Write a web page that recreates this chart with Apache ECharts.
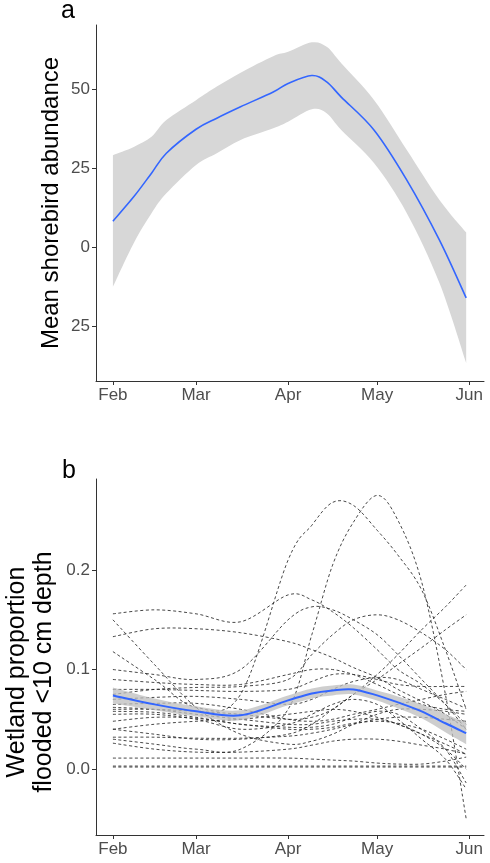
<!DOCTYPE html>
<html>
<head>
<meta charset="utf-8">
<script src="https://cdn.jsdelivr.net/npm/echarts@6/dist/echarts.min.js"></script>
<style>
html,body{margin:0;padding:0;background:#fff;}
#chart{width:490px;height:863px;}
</style>
</head>
<body>
<div id="chart"></div>
<script>
// ---- axis ticks ----
const monthTickDays = [32, 60, 91, 121, 152];
const monthTickLabels = ['Feb', 'Mar', 'Apr', 'May', 'Jun'];
const abundTicks = [-25, 0, 25, 50];
const abundTickLabels = ['25', '0', '25', '50'];
const propTicks = [0, 0.1, 0.2];
const propTickLabels = ['0.0', '0.1', '0.2'];

// ---- panel a: mean shorebird abundance (day of year) ----
const abundDays  = [32, 39, 45, 50, 60, 67, 75, 86, 91, 99, 104, 109, 120, 131, 142, 151];
const abundMean  = [8.2, 15.9, 23.4, 29.7, 37.3, 40.8, 44.4, 49.1, 51.8, 54.3, 52.3, 47.4, 37.0, 21.2, 2.2, -16.1];
const abundUpper = [29.1, 31.7, 34.9, 40.2, 46.5, 50.8, 55.2, 60.4, 61.8, 64.8, 63.4, 58.1, 46.5, 30.7, 14.9, 4.6];
const abundLower = [-12.6, 1.2, 10.7, 17.0, 26.0, 29.7, 33.9, 37.6, 39.7, 43.6, 42.4, 37.0, 26.5, 10.7, -11.4, -36.7];

// ---- panel b: wetland proportion flooded <10 cm ----
const wetDays  = [32, 46, 60, 75, 91, 99, 106, 113, 121, 128, 136, 144, 151];
const wetMean  = [0.074, 0.065, 0.058, 0.054, 0.069, 0.076, 0.079, 0.080, 0.074, 0.067, 0.058, 0.046, 0.036];
const wetUpper = [0.082, 0.071, 0.063, 0.059, 0.074, 0.081, 0.084, 0.085, 0.079, 0.073, 0.065, 0.055, 0.047];
const wetLower = [0.066, 0.059, 0.053, 0.049, 0.064, 0.071, 0.074, 0.075, 0.069, 0.061, 0.051, 0.037, 0.025];

const site01 = [0.156, 0.160, 0.156, 0.148, 0.175, 0.170, 0.158, 0.142, 0.120, 0.100, 0.085, 0.065, 0.045];
const site02 = [0.133, 0.141, 0.141, 0.137, 0.128, 0.120, 0.112, 0.102, 0.092, 0.080, 0.068, 0.055, 0.040];
const site03 = [0.118, 0.090, 0.062, 0.075, 0.210, 0.245, 0.268, 0.265, 0.240, 0.215, 0.180, 0.120, 0.060];
const site04 = [0.030, 0.025, 0.020, 0.020, 0.060, 0.135, 0.205, 0.248, 0.275, 0.250, 0.188, 0.075, -0.050];
const site05 = [0.040, 0.035, 0.030, 0.030, 0.035, 0.045, 0.060, 0.075, 0.095, 0.115, 0.140, 0.163, 0.185];
const site06 = [0.075, 0.080, 0.082, 0.083, 0.090, 0.115, 0.135, 0.150, 0.155, 0.150, 0.137, 0.120, 0.100];
const site07 = [0.060, 0.060, 0.058, 0.055, 0.050, 0.052, 0.060, 0.075, 0.090, 0.105, 0.122, 0.140, 0.155];
const site08 = [0.100, 0.095, 0.090, 0.100, 0.150, 0.163, 0.160, 0.150, 0.135, 0.115, 0.090, 0.065, 0.040];
const site09 = [0.090, 0.087, 0.085, 0.085, 0.095, 0.100, 0.100, 0.095, 0.085, 0.075, 0.065, 0.060, 0.058];
const site10 = [0.080, 0.080, 0.079, 0.078, 0.080, 0.088, 0.095, 0.095, 0.090, 0.085, 0.083, 0.083, 0.083];
const site11 = [0.070, 0.072, 0.073, 0.070, 0.065, 0.070, 0.080, 0.088, 0.092, 0.090, 0.080, 0.070, 0.061];
const site12 = [0.065, 0.066, 0.066, 0.060, 0.050, 0.048, 0.050, 0.055, 0.060, 0.065, 0.070, 0.075, 0.078];
const site13 = [0.062, 0.060, 0.055, 0.050, 0.045, 0.045, 0.048, 0.050, 0.050, 0.045, 0.035, 0.020, 0.000];
const site14 = [0.058, 0.057, 0.052, 0.045, 0.042, 0.042, 0.045, 0.052, 0.058, 0.055, 0.040, 0.020, -0.014];
const site15 = [0.055, 0.055, 0.050, 0.040, 0.045, 0.055, 0.065, 0.070, 0.065, 0.050, 0.030, 0.010, -0.020];
const site16 = [0.048, 0.052, 0.051, 0.045, 0.040, 0.040, 0.042, 0.046, 0.048, 0.046, 0.040, 0.030, 0.020];
const site17 = [0.040, 0.045, 0.048, 0.050, 0.055, 0.058, 0.060, 0.058, 0.052, 0.045, 0.035, 0.025, 0.015];
const site18 = [0.032, 0.032, 0.031, 0.031, 0.033, 0.036, 0.040, 0.045, 0.050, 0.052, 0.052, 0.050, 0.048];
const site19 = [0.026, 0.020, 0.017, 0.017, 0.020, 0.024, 0.028, 0.030, 0.030, 0.028, 0.024, 0.020, 0.015];
const site20 = [0.011, 0.011, 0.011, 0.011, 0.011, 0.010, 0.009, 0.008, 0.006, 0.005, 0.005, 0.008, 0.012];
const site21 = [0.002, 0.002, 0.002, 0.002, 0.002, 0.002, 0.002, 0.002, 0.002, 0.002, 0.002, 0.002, 0.002];
const site22 = [0.003, 0.003, 0.003, 0.003, 0.003, 0.003, 0.003, 0.003, 0.003, 0.003, 0.003, 0.003, 0.003];
const site23 = [0.150, 0.105, 0.062, 0.035, 0.025, 0.028, 0.035, 0.045, 0.055, 0.060, 0.060, 0.058, 0.055];
const siteSeries = [site01, site02, site03, site04, site05, site06, site07, site08, site09, site10, site11, site12,
  site13, site14, site15, site16, site17, site18, site19, site20, site21, site22, site23];

// ---- helpers ----
const FONT = 'Liberation Sans, Arial, sans-serif';
const lookup = (vals, labels) => (v) => {
  const i = vals.findIndex(t => Math.abs(t - v) < 1e-9);
  return i >= 0 ? labels[i] : '';
};

// Catmull-Rom curve through pixel points (rendering helper only)
function curveSegs(pts) {
  let d = '';
  for (let i = 0; i < pts.length - 1; i++) {
    const p0 = pts[i - 1] || pts[i], p1 = pts[i], p2 = pts[i + 1], p3 = pts[i + 2] || pts[i + 1];
    const c1 = [p1[0] + (p2[0] - p0[0]) / 6, p1[1] + (p2[1] - p0[1]) / 6];
    const c2 = [p2[0] - (p3[0] - p1[0]) / 6, p2[1] - (p3[1] - p1[1]) / 6];
    d += ` C${c1[0]},${c1[1]} ${c2[0]},${c2[1]} ${p2[0]},${p2[1]}`;
  }
  return d;
}
function bandSeries(axisIdx, days, upper, lower, fill, z) {
  return {
    type: 'custom', xAxisIndex: axisIdx, yAxisIndex: axisIdx, silent: true, z,
    data: [[days[0], upper[0]]],
    renderItem: (params, api) => {
      const up = days.map((d, i) => api.coord([d, upper[i]]));
      const lo = days.map((d, i) => api.coord([d, lower[i]])).reverse();
      const pathData = `M${up[0][0]},${up[0][1]}` + curveSegs(up) + ` L${lo[0][0]},${lo[0][1]}` + curveSegs(lo) + ' Z';
      return { type: 'path', shape: { pathData }, style: { fill, stroke: null } };
    }
  };
}
function curveSeries(axisIdx, days, vals, lineStyle, z) {
  return {
    type: 'custom', xAxisIndex: axisIdx, yAxisIndex: axisIdx, silent: true, z,
    data: [[days[0], vals[0]]],
    renderItem: (params, api) => {
      const pts = days.map((d, i) => api.coord([d, vals[i]]));
      const pathData = `M${pts[0][0]},${pts[0][1]}` + curveSegs(pts);
      return { type: 'path', shape: { pathData }, style: Object.assign({ fill: null }, lineStyle) };
    }
  };
}

function xAxisFor(gridIndex) {
  return {
    type: 'value', gridIndex, min: 26.3, max: 157,
    axisLine: { show: true, onZero: false, lineStyle: { color: '#333', width: 1 } },
    axisTick: { show: true, length: 4, customValues: monthTickDays, lineStyle: { color: '#333' } },
    axisLabel: { customValues: monthTickDays, formatter: lookup(monthTickDays, monthTickLabels),
      color: '#4d4d4d', fontSize: 17, fontFamily: FONT, margin: 6 },
    splitLine: { show: false }
  };
}

const option = {
  animation: false,
  backgroundColor: '#fff',
  title: [
    { text: 'a', left: 61, top: -1, padding: 0, textStyle: { fontSize: 25, fontWeight: 'normal', color: '#000', fontFamily: FONT } },
    { text: 'b', left: 62, top: 459, padding: 0, textStyle: { fontSize: 25, fontWeight: 'normal', color: '#000', fontFamily: FONT } }
  ],
  grid: [
    { left: 96, top: 25, width: 388, height: 356, outerBoundsMode: 'none', containLabel: false },
    { left: 96, top: 479, width: 388, height: 356, outerBoundsMode: 'none', containLabel: false }
  ],
  xAxis: [xAxisFor(0), xAxisFor(1)],
  yAxis: [
    {
      type: 'value', gridIndex: 0, min: -42.4, max: 70.3,
      name: 'Mean shorebird abundance', nameLocation: 'middle', nameGap: 33, nameRotate: 90,
      nameMoveOverlap: false,
      nameTextStyle: { fontSize: 24, color: '#000', fontFamily: FONT },
      axisLine: { show: true, onZero: false, lineStyle: { color: '#333', width: 1 } },
      axisTick: { show: true, length: 4, customValues: abundTicks, lineStyle: { color: '#333' } },
      axisLabel: { customValues: abundTicks, formatter: lookup(abundTicks, abundTickLabels),
        color: '#4d4d4d', fontSize: 17, fontFamily: FONT, margin: 6 },
      splitLine: { show: false }
    },
    {
      type: 'value', gridIndex: 1, min: -0.0663, max: 0.2915,
      name: 'Wetland proportion\nflooded <10 cm depth', nameLocation: 'middle', nameGap: 38, nameRotate: 90,
      nameMoveOverlap: false,
      nameTextStyle: { fontSize: 25, lineHeight: 27, color: '#000', fontFamily: FONT, padding: [0, 30, 0, 0] },
      axisLine: { show: true, onZero: false, lineStyle: { color: '#333', width: 1 } },
      axisTick: { show: true, length: 4, customValues: propTicks, lineStyle: { color: '#333' } },
      axisLabel: { customValues: propTicks, formatter: lookup(propTicks, propTickLabels),
        color: '#4d4d4d', fontSize: 17, fontFamily: FONT, margin: 6 },
      splitLine: { show: false }
    }
  ],
  series: []
};

// panel a band + mean
option.series.push(
  bandSeries(0, abundDays, abundUpper, abundLower, '#d7d7d7', 1),
  curveSeries(0, abundDays, abundMean, { stroke: '#3366ff', lineWidth: 1.6 }, 5)
);

// panel b dashed site lines
siteSeries.forEach((vals) => {
  option.series.push(curveSeries(1, wetDays, vals, { stroke: 'rgba(40,40,40,0.85)', lineWidth: 1, lineDash: [3, 2.5] }, 2));
});

// panel b band + mean
option.series.push(
  bandSeries(1, wetDays, wetUpper, wetLower, 'rgba(190,190,190,0.75)', 3),
  curveSeries(1, wetDays, wetMean, { stroke: '#3366ff', lineWidth: 2 }, 5)
);

const chart = echarts.init(document.getElementById('chart'), null, { renderer: 'canvas' });
chart.setOption(option);
</script>
</body>
</html>
